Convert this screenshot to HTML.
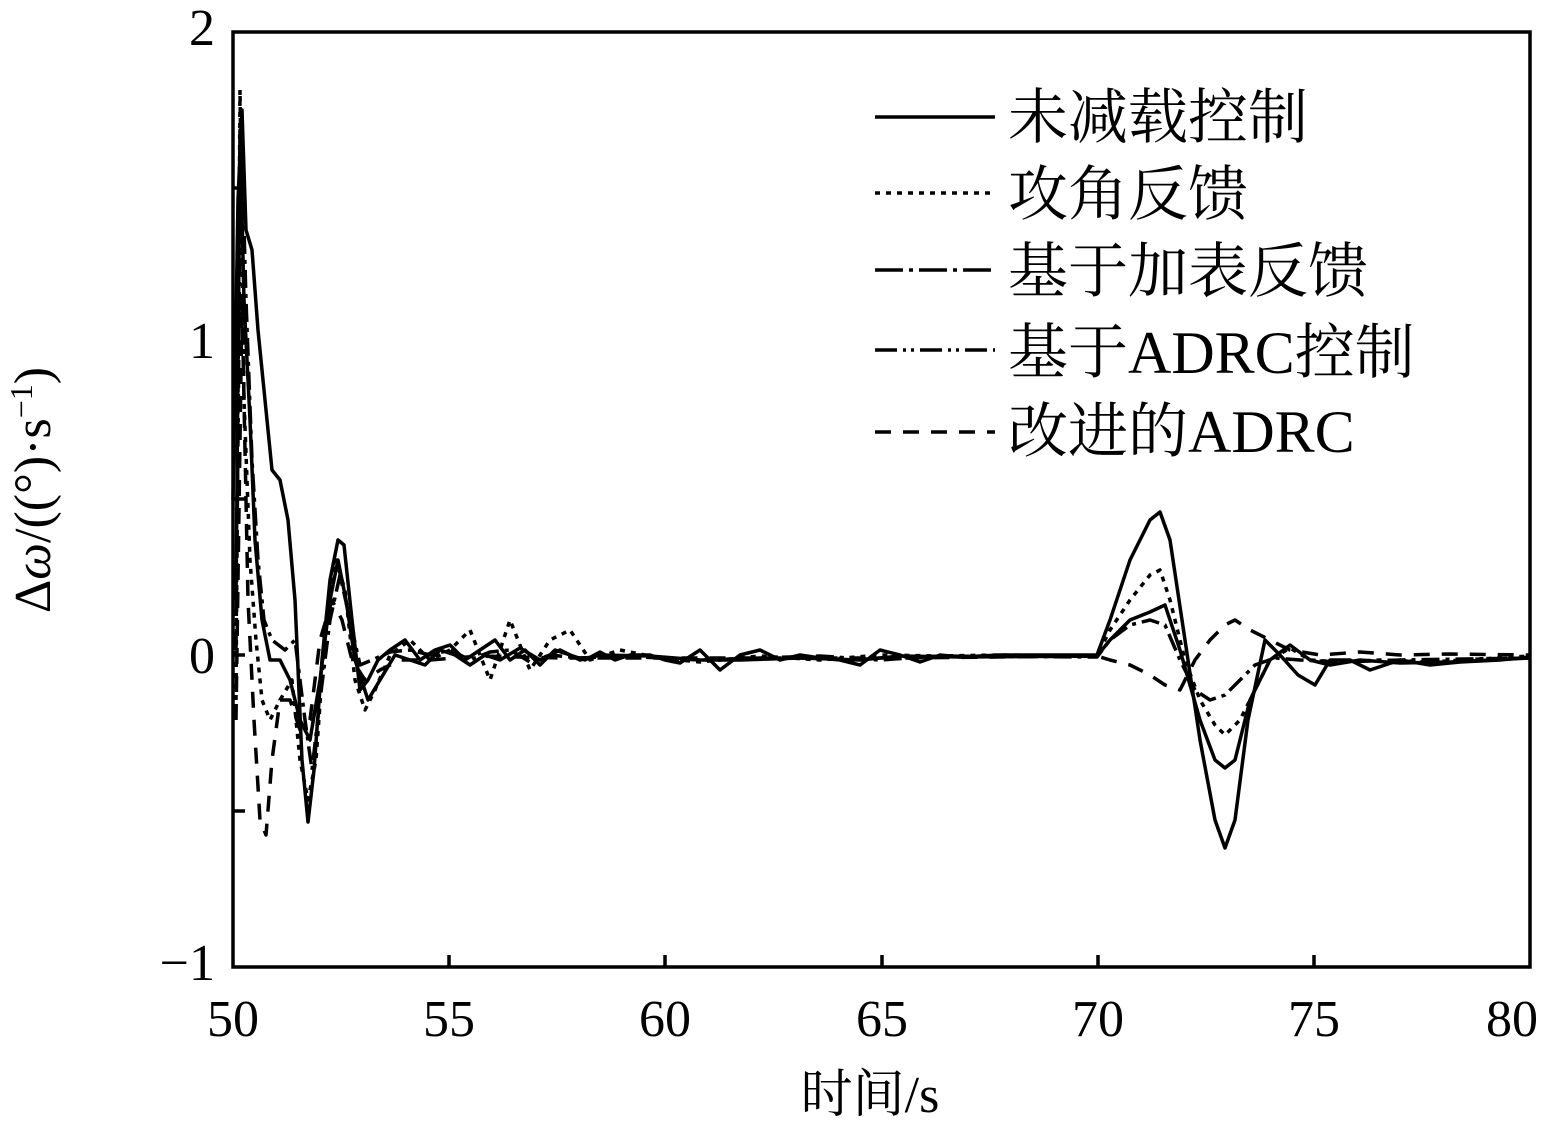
<!DOCTYPE html>
<html><head><meta charset="utf-8"><style>
body{margin:0;background:#fff;}
svg text{font-family:"Liberation Serif","Noto Serif CJK SC",serif;fill:#000;}
</style></head><body>
<svg width="1560" height="1122" viewBox="0 0 1560 1122" xmlns="http://www.w3.org/2000/svg">
<rect width="1560" height="1122" fill="#fff"/>
<g stroke="#000" stroke-width="3.5" fill="none">
<rect x="233" y="32" width="1297" height="935"/>
<path d="M233,188h12M233,343h12M233,499h12M233,655h12M233,811h12"/>
<path d="M449,967v-12M665,967v-12M882,967v-12M1098,967v-12M1314,967v-12"/>
</g>
<g font-size="52" text-anchor="end">
<text x="215" y="45">2</text><text x="215" y="358">1</text><text x="215" y="673">0</text><text x="215" y="980">−1</text>
</g>
<g font-size="52" text-anchor="middle">
<text x="233" y="1036">50</text><text x="449" y="1036">55</text><text x="665" y="1036">60</text><text x="882" y="1036">65</text><text x="1098" y="1036">70</text><text x="1314" y="1036">75</text><text x="1512" y="1036">80</text>
<text x="870" y="1112">时间/s</text>
<text transform="translate(50,490) rotate(-90)">Δ<tspan font-style="italic">ω</tspan>/((°)·s<tspan font-size="32" dy="-18">−1</tspan><tspan dy="18">)</tspan></text>
</g>
<g fill="none" stroke="#000" stroke-width="3.5" stroke-linejoin="round">
<path d="M233,500 L238,200 L242,110 L246,230 L252,250 L258,330 L265,400 L272,470 L280,480 L288,520 L295,600 L302,760 L308,822 L314,770 L322,660 L330,580 L338,540 L344,545 L352,620 L360,690 L368,680 L378,660 L390,650 L405,640 L420,660 L435,650 L450,645 L465,660 L480,650 L495,640 L510,660 L525,650 L540,665 L555,650 L570,655 L585,660 L600,652 L615,660 L630,655 L650,655 L665,660 L680,663 L700,650 L720,670 L740,655 L760,650 L780,660 L800,655 L820,658 L840,660 L860,665 L880,650 L900,655 L920,662 L940,655 L960,657 L1000,655 L1097,655 L1110,620 L1130,560 L1150,520 L1160,512 L1170,540 L1185,640 L1200,740 L1215,820 L1225,848 L1235,820 L1248,720 L1265,640 L1280,655 L1298,675 L1315,685 L1330,660 L1350,660 L1370,670 L1400,660 L1430,665 L1460,662 L1500,660 L1530,657"/>
<path d="M236,600 L240,130 L244,300 L250,420 L255,540 L262,620 L270,660 L280,660 L290,680 L300,720 L310,740 L320,680 L330,600 L338,560 L346,600 L355,660 L368,700 L380,680 L395,655 L410,660 L425,665 L440,650 L455,655 L470,665 L485,655 L500,660 L520,648 L540,660 L560,650 L580,660 L600,655 L650,656 L700,660 L740,660 L800,658 L860,660 L900,656 L960,657 L1097,656 L1110,640 L1130,620 L1150,612 L1165,605 L1180,650 L1200,720 L1215,760 L1225,768 L1235,760 L1250,700 L1270,660 L1290,645 L1310,660 L1330,665 L1360,660 L1400,663 L1450,662 L1530,658"/>
<path stroke-dasharray="5,6" d="M236,700 L240,90 L244,400 L250,560 L256,640 L262,700 L270,720 L280,700 L292,680 L300,760 L308,800 L316,760 L326,620 L336,560 L345,590 L355,680 L365,710 L375,690 L390,655 L410,640 L430,660 L450,650 L470,630 L490,680 L510,620 L530,670 L550,640 L570,630 L590,660 L620,650 L660,658 L700,662 L760,656 L820,660 L880,655 L940,656 L1000,655 L1097,656 L1110,630 L1130,600 L1150,575 L1160,570 L1170,600 L1185,660 L1200,700 L1215,725 L1225,735 L1240,720 L1255,690 L1270,660 L1290,648 L1310,660 L1340,662 L1380,660 L1430,662 L1530,656"/>
<path stroke-dasharray="18,6,4,6" d="M236,650 L241,120 L246,300 L252,460 L258,560 L264,620 L272,640 L285,650 L295,640 L305,720 L312,770 L320,700 L330,620 L340,575 L350,620 L360,665 L372,660 L390,652 L410,650 L430,655 L450,650 L470,660 L490,652 L510,650 L530,662 L550,655 L580,658 L620,656 L700,660 L760,658 L820,656 L880,660 L940,656 L1097,657 L1110,640 L1130,625 L1150,620 L1165,625 L1180,660 L1195,690 L1210,700 L1225,695 L1240,680 L1255,665 L1275,658 L1300,660 L1340,662 L1400,660 L1530,658"/>
<path stroke-dasharray="16,12" d="M236,720 L242,300 L248,600 L254,720 L260,820 L266,835 L272,760 L280,700 L290,700 L300,730 L310,720 L320,640 L332,600 L342,620 L352,660 L365,680 L380,670 L400,660 L430,660 L480,656 L560,658 L700,658 L900,658 L1097,656 L1110,660 L1130,665 L1150,675 L1165,685 L1180,690 L1195,660 L1210,640 L1225,625 L1235,620 L1250,630 L1270,640 L1290,650 L1320,655 L1360,652 L1400,655 L1450,654 L1530,655"/>
</g>
<g stroke="#000" stroke-width="3.5" fill="none">
<path d="M875,117h120"/>
<path stroke-dasharray="5,6" d="M875,193h120"/>
<path stroke-dasharray="28,6,4,6" d="M875,270h120"/>
<path stroke-dasharray="22,6,3,5,3,6" d="M875,350h120"/>
<path stroke-dasharray="16,12" d="M875,432h120"/>
</g>
<g font-size="60">
<text x="1008" y="138">未减载控制</text>
<text x="1008" y="215">攻角反馈</text>
<text x="1008" y="292">基于加表反馈</text>
<text x="1008" y="373">基于ADRC控制</text>
<text x="1008" y="452">改进的ADRC</text>
</g>
</svg>
</body></html>
